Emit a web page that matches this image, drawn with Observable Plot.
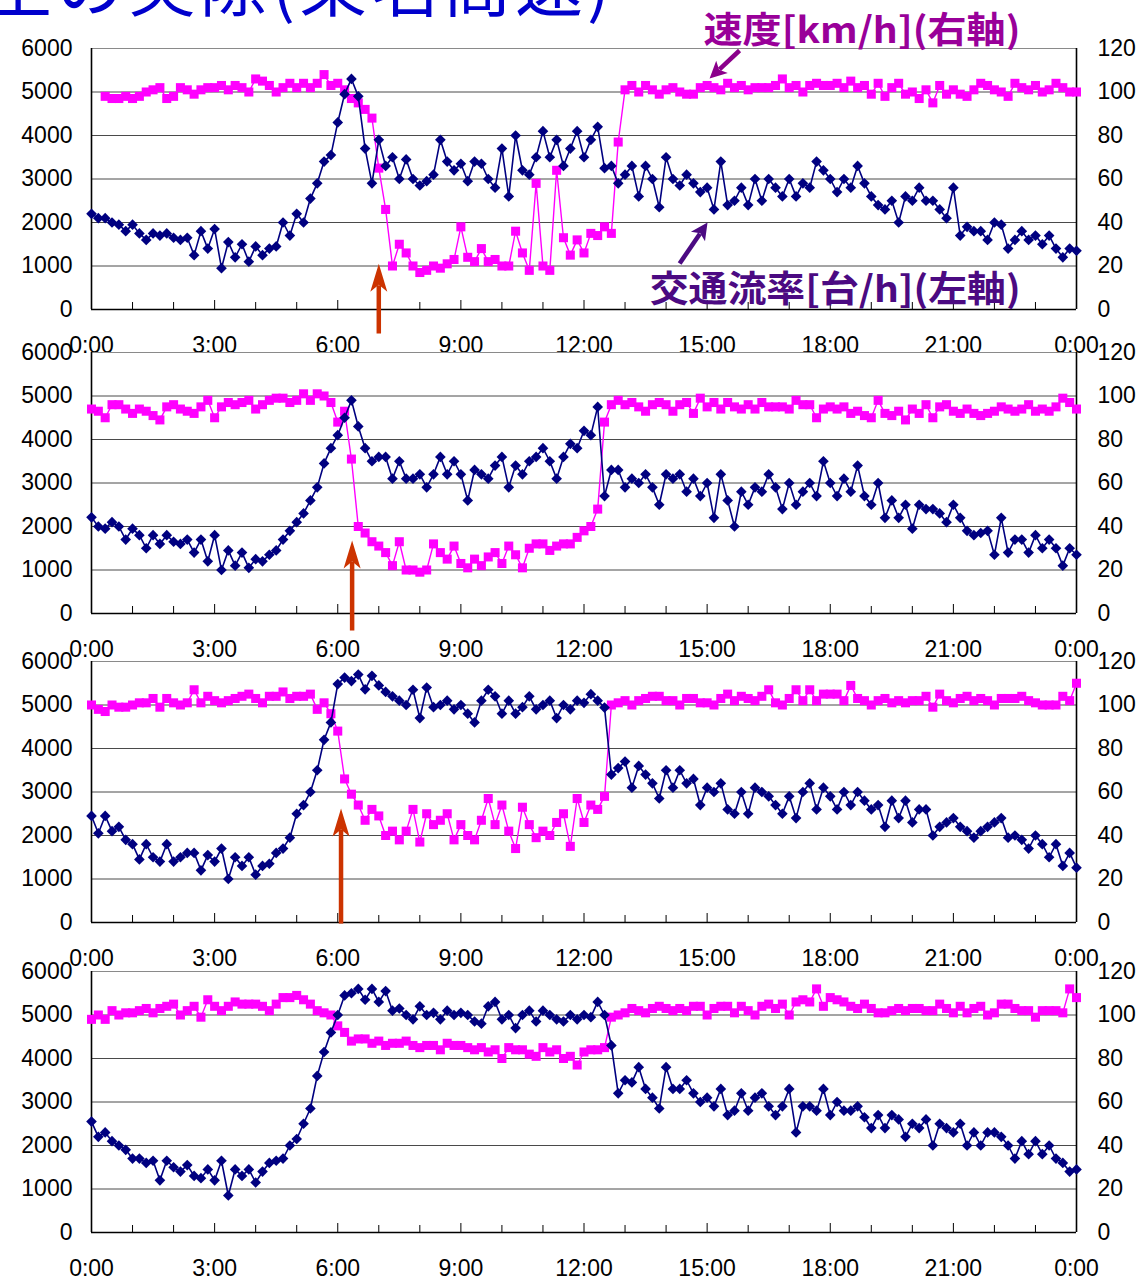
<!DOCTYPE html>
<html><head><meta charset="utf-8">
<script src="https://cdn.jsdelivr.net/npm/d3@7"></script>
<script src="https://cdn.jsdelivr.net/npm/@observablehq/plot@0.6"></script>
<style>
html,body{margin:0;padding:0;background:#fff;}
#page{position:relative;width:1143px;height:1282px;overflow:hidden;background:#fff;}
#page svg{position:absolute;left:0;}
</style></head><body><div id="page"></div>
<script>
// ---- data: time of day in hours (10-minute samples) ----
const hours = d3.range(145).map(i => i / 6);

// Panel 1
const flow1 = [
2200,2100,2100,2000,1950,1800,
1950,1750,1600,1750,1700,1750,
1650,1600,1650,1250,1800,1400,
1850,950,1550,1200,1500,1100,
1450,1250,1400,1450,2000,1700,
2200,2000,2550,2900,3400,3550,
4300,4950,5300,4900,3700,2900,
3900,3300,3500,3000,3450,3000,
2850,2950,3100,3900,3400,3200,
3350,2950,3400,3350,3000,2800,
3700,2600,4000,3200,3100,3500,
4100,3500,3900,3300,3700,4100,
3500,3900,4200,3250,3300,2900,
3100,3300,2600,3300,3000,2350,
3500,3000,2850,3100,2900,2700,
2800,2300,3400,2400,2500,2800,
2400,3000,2500,3000,2800,2600,
3000,2600,2900,2800,3400,3200,
3000,2700,3000,2800,3300,2900,
2600,2400,2300,2500,2000,2600,
2500,2800,2500,2500,2300,2100,
2800,1700,1900,1800,1800,1600,
2000,1950,1400,1600,1800,1600,
1700,1500,1700,1400,1200,1400,
1350];
const speed1 = [
null,null,98,97,97,98,
97,98,100,101,102,97,
98,102,101,99,101,102,
102,103,101,103,102,100,
106,105,103,100,102,104,
102,104,102,104,108,103,
104,101,97,95,92,88,
65,46,20,30,26,20,
17,18,20,19,21,23,
38,24,22,28,22,23,
20,20,36,26,18,58,
20,18,64,33,25,32,
26,35,34,38,35,77,
101,103,100,103,101,99,
101,102,100,99,99,102,
103,102,101,104,102,103,
101,102,102,102,103,106,
102,103,100,103,104,103,
103,104,102,105,102,103,
99,104,98,102,104,99,
100,97,101,95,103,99,
101,99,98,101,104,103,
101,100,98,104,102,101,
103,100,101,104,102,100,
100];

// Panel 2
const flow2 = [
2210,2000,1950,2100,2000,1700,
1950,1800,1500,1800,1600,1800,
1650,1600,1700,1400,1700,1200,
1800,1000,1450,1100,1400,1050,
1250,1200,1350,1450,1700,1900,
2100,2300,2600,2900,3450,3800,
4100,4500,4900,4300,3800,3500,
3600,3600,3100,3500,3100,3100,
3200,2900,3200,3600,3200,3500,
3200,2600,3300,3200,3100,3400,
3600,2900,3400,3200,3500,3600,
3800,3500,3100,3600,3900,3800,
4200,4100,4750,2700,3300,3300,
2900,3100,3000,3200,2900,2500,
3200,3100,3200,2800,3100,2700,
3000,2200,3200,2600,2000,2800,
2500,2900,2800,3200,2900,2400,
3000,2500,2800,3000,2700,3500,
3000,2700,3100,2800,3400,2700,
2500,3000,2200,2600,2200,2500,
1950,2500,2400,2400,2300,2100,
2500,2200,1900,1800,1850,1900,
1350,2200,1400,1700,1700,1400,
1800,1500,1700,1500,1100,1500,
1350];
const speed2 = [
94,93,90,96,96,94,
92,94,93,91,89,95,
96,94,93,92,95,98,
90,95,97,96,97,98,
94,96,98,99,99,97,
98,101,98,101,100,97,
88,93,71,40,37,33,
31,28,22,33,20,20,
19,20,32,28,25,31,
23,21,25,22,26,28,
23,31,27,21,30,32,
32,29,31,32,32,35,
38,40,48,88,96,98,
96,97,95,93,96,97,
96,93,96,97,92,99,
95,97,94,97,95,94,
96,94,97,95,95,95,
94,98,96,96,90,94,
95,94,95,92,93,91,
90,98,92,91,93,89,
94,92,96,90,95,96,
93,92,94,92,91,92,
93,95,94,93,94,96,
93,94,93,95,99,97,
94];

// Panel 3
const flow3 = [
2450,2050,2450,2100,2200,1900,
1800,1450,1800,1500,1400,1800,
1400,1500,1600,1600,1200,1550,
1400,1700,1000,1500,1300,1500,
1100,1300,1350,1600,1700,1950,
2500,2700,3000,3500,4200,4600,
5480,5630,5550,5700,5360,5670,
5450,5300,5200,5100,5000,5350,
4700,5400,4950,5000,5100,4900,
5000,4800,4600,5100,5350,5200,
4800,5100,4800,4950,5200,4900,
5000,5100,4700,5000,4900,5100,
5050,5250,5100,4940,3400,3550,
3700,3100,3600,3400,3200,2850,
3500,3100,3500,3200,3300,2700,
3100,3000,3200,2600,2500,3000,
2500,3100,3000,2900,2700,2500,
2900,2400,3000,3200,2600,3100,
2900,2600,3000,2700,3000,2800,
2600,2700,2200,2800,2400,2800,
2300,2600,2600,2000,2200,2300,
2400,2200,2100,1950,2100,2200,
2300,2400,1950,2000,1900,1700,
2000,1800,1500,1800,1300,1600,
1260];
const speed3 = [
100,98,97,100,99,99,
100,101,101,103,99,103,
101,100,101,107,101,104,
102,101,102,103,104,105,
103,101,104,104,106,103,
104,104,105,98,101,96,
88,66,59,54,47,52,
49,40,42,38,42,52,
37,50,45,47,50,38,
45,40,38,47,57,45,
54,42,34,53,45,39,
42,40,46,50,35,57,
46,54,52,58,100,101,
102,100,102,103,104,104,
102,102,100,103,103,101,
101,100,103,105,102,104,
103,102,104,107,101,100,
103,107,102,107,102,105,
105,105,102,109,103,102,
100,102,103,101,102,101,
102,102,104,99,105,102,
101,103,104,102,103,102,
100,103,103,103,104,102,
101,100,100,100,104,102,
110];

// Panel 4
const flow4 = [
2550,2200,2300,2100,2000,1900,
1700,1700,1600,1650,1200,1650,
1500,1400,1550,1300,1250,1450,
1200,1650,850,1450,1300,1450,
1150,1400,1600,1650,1700,2000,
2150,2500,2850,3600,4150,4600,
5000,5450,5500,5600,5350,5600,
5300,5550,5100,5150,5000,4900,
5200,5000,5050,4900,5100,5000,
5050,5000,4850,4800,5200,5300,
4900,5000,4700,5000,5100,4850,
5100,5000,4900,4850,5000,4900,
5000,4950,5300,5000,4300,3200,
3500,3450,3800,3300,3100,2850,
3800,3300,3300,3500,3200,3000,
3100,2900,3300,2700,2800,3200,
2800,3100,3200,2900,2700,2900,
3300,2300,2900,2900,2800,3300,
2700,3000,2800,2800,2900,2650,
2400,2700,2400,2700,2600,2200,
2500,2400,2600,2000,2500,2400,
2300,2500,2000,2300,2000,2300,
2300,2200,2000,1700,2100,1800,
2100,1800,2000,1700,1600,1400,
1450];
const speed4 = [
98,100,98,102,100,101,
101,102,103,101,103,104,
105,100,102,104,99,107,
104,102,104,106,105,105,
105,104,102,105,108,108,
109,107,105,102,101,100,
95,92,88,89,89,87,
88,86,87,87,88,86,
85,86,86,84,87,86,
86,85,84,85,83,84,
80,85,84,84,82,81,
85,83,84,80,81,77,
83,84,84,85,99,100,
101,103,102,101,103,104,
103,102,103,102,104,104,
100,103,104,104,101,104,
102,100,104,105,103,105,
100,106,107,106,112,104,
108,107,106,104,103,105,
103,101,101,102,103,102,
103,103,102,102,105,103,
101,104,101,103,104,100,
101,105,105,103,102,102,
99,102,102,102,101,112,
108];

// ---- tick labels ----
const xTickHours = [0, 3, 6, 9, 12, 15, 18, 21, 24];
const xTickLabels = ["0:00","3:00","6:00","9:00","12:00","15:00","18:00","21:00","0:00"];
const hourTicks = d3.range(1, 24);
const flowTicks = [0, 1000, 2000, 3000, 4000, 5000, 6000];
const flowTickLabels = ["0","1000","2000","3000","4000","5000","6000"];
const speedTickLabels = ["0","20","40","60","80","100","120"];

const panelSeries = [
  {flow: flow1, speed: speed1},
  {flow: flow2, speed: speed2},
  {flow: flow3, speed: speed3},
  {flow: flow4, speed: speed4}
];

// ---- annotations (panel units: hour, vehicles/h) ----
const titleText = "渋滞発生の実際(東名高速)";
const breakdownArrows = [
  {panel: 0, h1: 7.0, v1: -552, h2: 7.0, v2: 1051},
  {panel: 1, h1: 6.35, v1: -391, h2: 6.35, v2: 1678},
  {panel: 2, h1: 6.08, v1: -25, h2: 6.08, v2: 2621}
];
const noteTexts = [
  {text: "速度[km/h](右軸)", hour: 14.91, flow: 6391},
  {text: "交通流率[台/h](左軸)", hour: 13.60, flow: 437}
];
const noteArrows = [
  {h1: 15.79, v1: 5954, h2: 15.06, v2: 5310},
  {h1: 14.33, v1: 1057, h2: 15.01, v2: 2000}
];

// ---- layout / style ----
const W = 1143, ML = 91, MR = 67;
const frames = [{top:48,bottom:309},{top:352,bottom:613},{top:661,bottom:922},{top:971,bottom:1232}];
const noteStyle = [{color:"#990099", width:317}, {color:"#4B0A82", width:371}];
const noteArrowColor = ["#8B008B", "#4B0A82"];
const FLOW_COLOR = "#000080", SPEED_COLOR = "#FF00FF", RED = "#CC3300";
const page = document.getElementById("page");

// title (cut off at the top edge, as in the source slide)
{
  const ns = "http://www.w3.org/2000/svg";
  const s = document.createElementNS(ns, "svg");
  s.setAttribute("width", W); s.setAttribute("height", 40);
  s.style.top = "0px";
  const t = document.createElementNS(ns, "text");
  t.setAttribute("x", -232); t.setAttribute("y", 10.5);
  t.setAttribute("font-size", 68);
  t.setAttribute("letter-spacing", 4);
  t.setAttribute("fill", "#0000CC");
  t.setAttribute("font-family", "'Noto Sans CJK JP', sans-serif");
  t.textContent = titleText;
  s.appendChild(t);
  page.appendChild(s);
}

function headSymbol(ux, uy, len, hw, notch) {
  const px = -uy, py = ux;
  return {draw(ctx) {
    ctx.moveTo(0, 0);
    ctx.lineTo(-ux*len + px*hw, -uy*len + py*hw);
    ctx.lineTo(-ux*(len-notch), -uy*(len-notch));
    ctx.lineTo(-ux*len - px*hw, -uy*len - py*hw);
    ctx.closePath();
  }};
}
function arrowMarks(a, sx, sy, color, width, len, hw, notch) {
  const dx = (a.h2 - a.h1) * sx, dy = -(a.v2 - a.v1) * sy;
  const n = Math.hypot(dx, dy), ux = dx / n, uy = dy / n;
  const back = len - notch + 0.5;
  const eh = a.h2 - ux * back / sx, ev = a.v2 + uy * back / sy;
  return [
    Plot.link([a], {x1: "h1", y1: "v1", x2: () => eh, y2: () => ev, stroke: color, strokeWidth: width}),
    Plot.dot([a], {x: "h2", y: "v2", r: 1, symbol: headSymbol(ux, uy, len, hw, notch), fill: color, stroke: "none"})
  ];
}

panelSeries.forEach((series, i) => {
  const {top, bottom} = frames[i];
  const mt = i === 0 ? 48 : 12, mb = 50;
  const plotH = bottom - top;
  const sx = (W - ML - MR) / 24, sy = plotH / 6000;
  const rows = hours.map((t, k) => ({t, flow: series.flow[k], speed: series.speed[k]}));
  const spY = d => d.speed == null ? NaN : d.speed * 50;

  const marks = [
    Plot.gridY(flowTicks.slice(1, -1), {stroke: "#4a4a4a", strokeOpacity: 1, strokeWidth: 1}),
    Plot.ruleY([6000], {stroke: "#8a8a8a", strokeWidth: 1}),
    Plot.ruleY([0], {stroke: "#000", strokeWidth: 1.6}),
    Plot.ruleX([0, 24], {stroke: "#000", strokeWidth: 1.6}),
    Plot.ruleX(hourTicks, {x: d => d, y1: 0, y2: d => (d % 3 === 0 ? 9 : 7) / sy, stroke: "#000", strokeWidth: 1}),
    Plot.axisY(flowTicks, {anchor: "left", tickSize: 0, tickPadding: 19, label: null, fill: "#000",
      tickFormat: d => flowTickLabels[flowTicks.indexOf(d)]}),
    Plot.axisY(flowTicks, {anchor: "right", tickSize: 0, tickPadding: 21, label: null, fill: "#000",
      tickFormat: d => speedTickLabels[flowTicks.indexOf(d)]}),
    Plot.axisX(xTickHours, {anchor: "bottom", tickSize: 0, tickPadding: 27, label: null, fill: "#000",
      tickFormat: d => xTickLabels[xTickHours.indexOf(d)]}),
    Plot.line(rows, {x: "t", y: spY, stroke: SPEED_COLOR, strokeWidth: 1.4}),
    Plot.dot(rows, {x: "t", y: spY, symbol: "square", r: 5.1, fill: SPEED_COLOR, stroke: "none"}),
    Plot.line(rows, {x: "t", y: "flow", stroke: FLOW_COLOR, strokeWidth: 1.6}),
    Plot.dot(rows, {x: "t", y: "flow", symbol: "diamond2", r: 4.8, fill: FLOW_COLOR, stroke: "none"})
  ];
  breakdownArrows.filter(a => a.panel === i).forEach(a => {
    marks.push(...arrowMarks(a, sx, sy, RED, 4.5, 28, 8.5, 7));
  });
  if (i === 0) {
    noteArrows.forEach((a, k) => marks.push(...arrowMarks(a, sx, sy, noteArrowColor[k], 4.5, 17, 8.5, 4)));
    noteTexts.forEach((n, k) => marks.push(Plot.text([n], {x: "hour", y: "flow", text: "text",
      textAnchor: "start", fill: noteStyle[k].color, fontSize: 36, fontWeight: "bold",
      fontFamily: "'Noto Sans CJK JP', sans-serif"})));
  }

  const svg = Plot.plot({
    width: W, height: mt + plotH + mb,
    marginLeft: ML, marginRight: MR, marginTop: mt, marginBottom: mb,
    x: {domain: [0, 24]},
    y: {domain: [0, 6000]},
    style: {background: "transparent", overflow: "visible", color: "#000",
      fontFamily: "'Liberation Sans', Arial, sans-serif", fontSize: "23px"},
    marks
  });
  if (i === 0) {
    svg.querySelectorAll('g[aria-label="text"] text').forEach((t, k) => {
      t.setAttribute("textLength", noteStyle[k].width);
      t.setAttribute("lengthAdjust", "spacingAndGlyphs");
    });
  }
  svg.style.position = "absolute";
  svg.style.top = (top - mt) + "px";
  svg.style.left = "0px";
  page.appendChild(svg);
});
</script></body></html>
